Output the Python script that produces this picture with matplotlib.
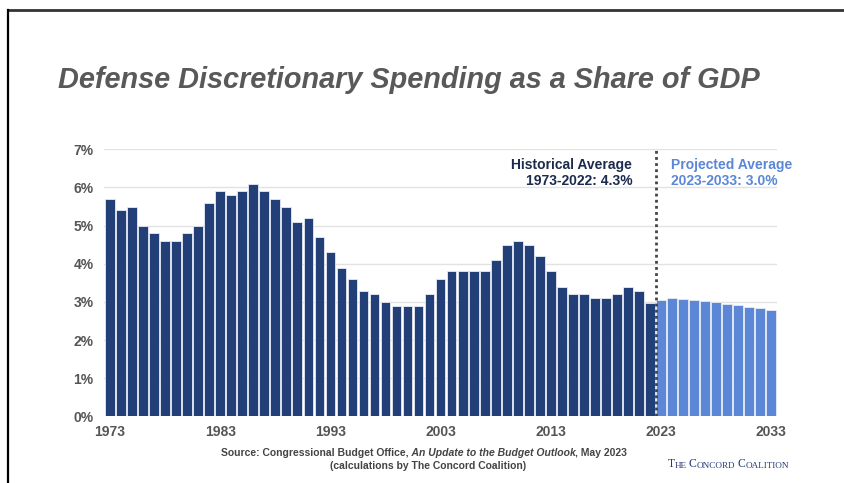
import numpy as np
import matplotlib.pyplot as plt
from matplotlib.lines import Line2D

# defense discretionary outlays, percent of GDP
hist_years = list(range(1973, 2023))
hist_share = [5.7, 5.4, 5.5, 5.0, 4.8, 4.6, 4.6, 4.8, 5.0, 5.6,
              5.9, 5.8, 5.9, 6.1, 5.9, 5.7, 5.5, 5.1, 5.2, 4.7,
              4.3, 3.9, 3.6, 3.3, 3.2, 3.0, 2.9, 2.9, 2.9, 3.2,
              3.6, 3.8, 3.8, 3.8, 3.8, 4.1, 4.5, 4.6, 4.5, 4.2,
              3.8, 3.4, 3.2, 3.2, 3.1, 3.1, 3.2, 3.4, 3.3, 2.97]
proj_years = list(range(2023, 2034))
proj_share = [3.04, 3.10, 3.08, 3.05, 3.02, 2.99, 2.96, 2.92, 2.88, 2.84, 2.80]
tick_years = [1973, 1983, 1993, 2003, 2013, 2023, 2033]

dark = '#233f78'
light = '#5b87d6'
grey = '#555555'

plt.rcParams['font.family'] = ['Liberation Sans', 'DejaVu Sans']

fig = plt.figure(figsize=(8.44, 4.83), dpi=100)
ax = fig.add_axes([0.1238, 0.1377, 0.7965, 0.5532])

ax.bar(hist_years, hist_share, width=0.88, color=dark, edgecolor='#e6eaf3', linewidth=0.6, zorder=3)
ax.bar(proj_years, proj_share, width=0.88, color=light, edgecolor='#e6eaf3', linewidth=0.6, zorder=3)

ax.set_xlim(1972.5, 2033.5)
ax.set_ylim(0, 7)
ax.set_yticks(np.arange(0, 8))
ax.set_yticklabels([f'{v}%' for v in range(8)])
ax.set_xticks(tick_years)
ax.set_xticklabels([str(y) for y in tick_years])
ax.tick_params(length=0, labelsize=10, labelcolor=grey)
ax.tick_params(axis='y', pad=8)
ax.tick_params(axis='x', pad=6)
for lab in ax.get_xticklabels() + ax.get_yticklabels():
    lab.set_fontweight('bold')
for s in ax.spines.values():
    s.set_visible(False)
ax.grid(axis='y', color='#e2e2e2', linewidth=1, zorder=0)

# split between history and projection
ax.axvline(2022.5, color='#444444', linestyle=(0, (1, 1.2)), linewidth=2, zorder=4)

ax.text(2020.4, 6.78, 'Historical Average\n1973-2022: 4.3%', ha='right', va='top',
        fontsize=10, fontweight='bold', color='#1c2a4d', linespacing=1.25)
ax.text(2023.9, 6.78, 'Projected Average\n2023-2033: 3.0%', ha='left', va='top',
        fontsize=10, fontweight='bold', color=light, linespacing=1.25)

fig.text(0.484, 0.834, 'Defense Discretionary Spending as a Share of GDP', ha='center', va='center',
         fontsize=20.8, fontweight='bold', fontstyle='italic', color='#595959')

src_kw = dict(fontsize=7.5, fontweight='bold', color='#444444')
src = fig.text(0.262, 0.056, 'Source: Congressional Budget Office,', ha='left', va='baseline', **src_kw)
src2 = ax.annotate(' An Update to the Budget Outlook', xy=(1, 0), xycoords=src, va='bottom',
                   fontstyle='italic', **src_kw)
ax.annotate(', May 2023', xy=(1, 0), xycoords=src2, va='bottom', **src_kw)
fig.text(0.507, 0.029, '(calculations by The Concord Coalition)', ha='center', va='baseline', **src_kw)

# small-caps logo, built letter group by letter group
prev = None
for word in ['THE', 'CONCORD', 'COALITION']:
    for part, size in [(word[0], 8.4), (word[1:], 6.6)]:
        if prev is None:
            prev = fig.text(0.791, 0.026, part, ha='left', va='bottom', fontsize=size,
                            family='Liberation Serif', color='#22397a')
        else:
            prev = ax.annotate(part, xy=(1, 0), xycoords=prev, va='bottom', fontsize=size,
                               family='Liberation Serif', color='#22397a', annotation_clip=False)
    prev = ax.annotate(' ', xy=(1, 0), xycoords=prev, va='bottom', fontsize=6.6,
                       family='Liberation Serif', annotation_clip=False)

# slide frame lines
fig.add_artist(Line2D([0.0095, 1.0], [0.979, 0.979], color='#333333', linewidth=2))
fig.add_artist(Line2D([0.0095, 0.0095], [0.0, 0.979], color='black', linewidth=1.6))

fig.savefig('out.png', dpi=100)
